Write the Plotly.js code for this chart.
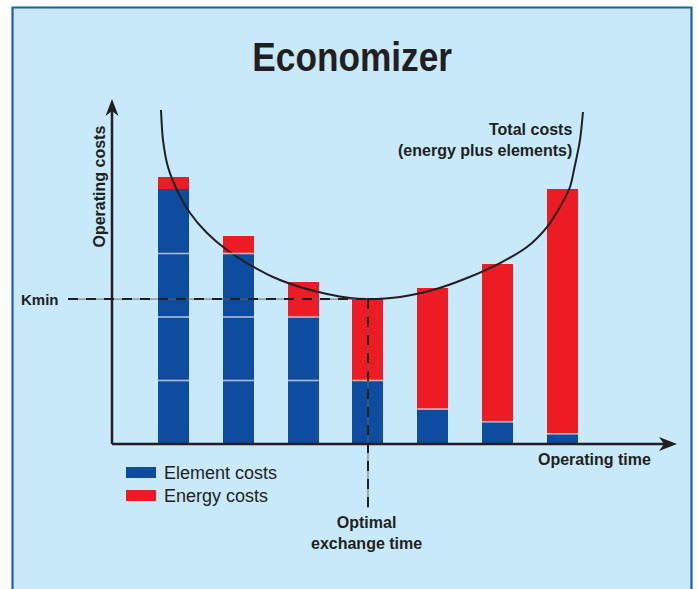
<!DOCTYPE html>
<html><head><meta charset="utf-8">
<script src="https://cdn.plot.ly/plotly-3.0.1.min.js"></script>
<style>html,body{margin:0;padding:0;background:#fff}#chart{width:698px;height:589px}</style>
</head><body><div id="chart"></div>
<script>
// ---- data ----
const periods = [1, 2, 3, 4, 5, 6, 7];
const elementCosts = [4.02, 3.0, 2.0, 1.0, 0.55, 0.35, 0.16];
const energyCosts = [0.18, 0.28, 0.55, 1.28, 1.91, 2.48, 3.86];
const elementUnitLevels = [1, 2, 3];
const totalCurveX = [0.807, 0.838, 0.915, 1.054, 1.255, 1.517, 1.825, 2.134, 2.535, 2.951, 3.368, 3.723, 4.000,
  4.262, 4.493, 5.002, 5.527, 6.036, 6.452, 6.761, 6.961, 7.116, 7.177, 7.270, 7.316];
const totalCurveY = [5.260, 4.787, 4.362, 4.000, 3.638, 3.323, 3.055, 2.850, 2.630, 2.472, 2.362, 2.299, 2.283,
  2.291, 2.315, 2.425, 2.614, 2.850, 3.102, 3.417, 3.732, 4.047, 4.315, 4.787, 5.228];
const optimalTime = 4;
const kmin = 2.283;
const seriesNames = ['Element costs', 'Energy costs'];
const titleText = 'Economizer';
const yAxisLabel = 'Operating costs';
const xAxisLabel = 'Operating time';
const curveLabel = 'Total costs<br>(energy plus elements)';
const kminLabel = 'Kmin';
const optimalLabel = 'Optimal<br>exchange time';

// ---- geometry / style ----
const W = 698, H = 589;
const X0PX = 173.5, XSTEP = 64.83, Y0PX = 444, YSTEP = 63.5;
const px2x = p => 1 + (p - X0PX) / XSTEP;
const py2y = p => (Y0PX - p) / YSTEP;
const BLUE = '#0d4c9f', RED = '#ed1c24', INK = '#231f20', BG = '#c7e9f9', FRAME = '#1d5fae';
const BARW = 31 / XSTEP;
const LABEL_FONT = 'Liberation Sans, Arial, sans-serif';

const shapes = [];
// frame
shapes.push({type: 'rect', xref: 'paper', yref: 'paper', x0: 12.5 / W, x1: 691.5 / W, y0: -0.02, y1: 1 - 7.5 / H,
  fillcolor: BG, line: {color: FRAME, width: 2.2}, layer: 'below'});
// divider lines on element bars
periods.forEach((p, i) => {
  const levels = elementUnitLevels.filter(l => l <= elementCosts[i] + 1e-6);
  if (elementCosts[i] < 1) levels.push(elementCosts[i]);
  levels.forEach(l => shapes.push({type: 'line', xref: 'x', yref: 'y', x0: p - BARW / 2, x1: p + BARW / 2, y0: l, y1: l,
    line: {color: 'rgba(255,255,255,0.65)', width: 1.6}, layer: 'above'}));
});
// Kmin horizontal + optimal vertical (grey under-line + dark dashes)
const kx0 = px2x(68), vyEnd = py2y(508);
[['rgba(90,100,110,0.7)', 1.3, 'solid'], [INK, 2, '10px,8px']].forEach(([c, w, d]) => {
  shapes.push({type: 'line', xref: 'x', yref: 'y', x0: kx0, x1: optimalTime, y0: kmin, y1: kmin, line: {color: c, width: w, dash: d}, layer: 'above'});
  shapes.push({type: 'line', xref: 'x', yref: 'y', x0: optimalTime, x1: optimalTime, y0: kmin, y1: vyEnd, line: {color: c, width: w, dash: d}, layer: 'above'});
});
// axes with arrowheads
const ox = px2x(112), oy = py2y(444), xt = px2x(677), yt = py2y(99);
shapes.push({type: 'line', xref: 'x', yref: 'y', x0: ox, x1: px2x(665), y0: oy, y1: oy, line: {color: INK, width: 2.5}, layer: 'above'});
shapes.push({type: 'line', xref: 'x', yref: 'y', x0: ox, x1: ox, y0: oy, y1: py2y(111), line: {color: INK, width: 2.5}, layer: 'above'});
shapes.push({type: 'path', xref: 'x', yref: 'y', layer: 'above', fillcolor: INK, line: {width: 0},
  path: `M${px2x(659)},${py2y(437)} L${xt},${oy} L${px2x(659)},${py2y(451)} L${px2x(664)},${oy} Z`});
shapes.push({type: 'path', xref: 'x', yref: 'y', layer: 'above', fillcolor: INK, line: {width: 0},
  path: `M${px2x(105.5)},${py2y(116)} L${ox},${yt} L${px2x(118.5)},${py2y(116)} L${ox},${py2y(111)} Z`});
// legend swatches
[[BLUE, 467], [RED, 490]].forEach(([c, y]) => shapes.push({type: 'rect', xref: 'paper', yref: 'paper',
  x0: 126 / W, x1: 156 / W, y0: 1 - (y + 11) / H, y1: 1 - y / H, fillcolor: c, line: {width: 0}, layer: 'above'}));

function ann(text, px, py, size, opts) {
  return Object.assign({xref: 'paper', yref: 'paper', x: px / W, y: 1 - py / H, text: text, showarrow: false,
    xanchor: 'center', yanchor: 'middle', font: {family: LABEL_FONT, size: size, color: INK}}, opts || {});
}
const annotations = [
  ann('<b>' + titleText + '</b>', 352, 57, 41),
  ann('<b>' + curveLabel + '</b>', 574, 140, 16, {xanchor: 'right', align: 'right'}),
  ann('<b>' + yAxisLabel + '</b>', 98.5, 187, 16, {textangle: -90}),
  ann('<b>' + xAxisLabel + '</b>', 594, 459, 16),
  ann('<b>' + kminLabel + '</b>', 40, 299, 15),
  ann('<b>' + optimalLabel + '</b>', 367, 533, 16),
  ann(seriesNames[0], 162, 472.5, 18, {xanchor: 'left'}),
  ann(seriesNames[1], 162, 495.5, 18, {xanchor: 'left'})
];

const traces = [
  {type: 'bar', name: seriesNames[0], x: periods, y: elementCosts, width: BARW, marker: {color: BLUE, line: {width: 0}}},
  {type: 'bar', name: seriesNames[1], x: periods, y: energyCosts, width: BARW, marker: {color: RED, line: {width: 0}}},
  {type: 'scatter', mode: 'lines', name: 'Total costs', x: totalCurveX, y: totalCurveY,
    line: {color: INK, width: 2, shape: 'spline', smoothing: 0.8}}
];

const layout = {
  width: W, height: H, margin: {l: 0, r: 0, t: 0, b: 0},
  paper_bgcolor: '#ffffff', plot_bgcolor: 'rgba(0,0,0,0)',
  barmode: 'stack', showlegend: false,
  xaxis: {range: [px2x(0), px2x(W)], visible: false, fixedrange: true},
  yaxis: {range: [py2y(H), py2y(0)], visible: false, fixedrange: true},
  shapes: shapes, annotations: annotations
};
Plotly.newPlot('chart', traces, layout, {staticPlot: true, displayModeBar: false}).then(gd => {
  // condense the title horizontally, like the reference's narrow headline face
  const t = gd.querySelector('.annotation[data-index="0"] text');
  if (t) {
    const bb = t.getBBox();
    const cx = bb.x + bb.width / 2;
    t.setAttribute('transform', `translate(${cx},0) scale(0.86,1) translate(${-cx},0)`);
  }
});
</script></body></html>
